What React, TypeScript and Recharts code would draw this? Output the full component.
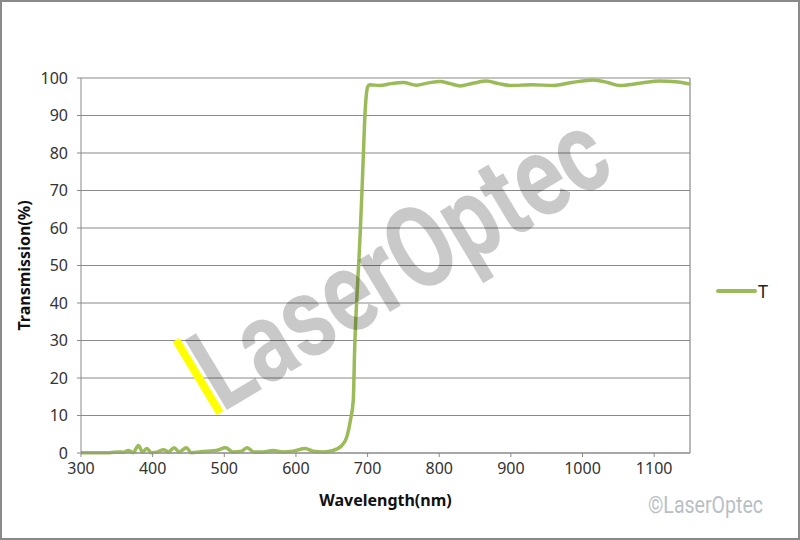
import React from 'react';
import { LineChart, Line, XAxis, YAxis, CartesianGrid, Legend, ReferenceLine } from 'recharts';

const wavelength = [
    300, 320, 340, 352, 360, 366, 373, 380, 386, 392, 398, 407, 415, 422, 430, 437, 447, 454, 465, 475,
    489, 502, 512, 524, 532, 541, 554, 568, 582, 596, 613, 624, 638, 652, 664, 671, 676, 680, 682, 686,
    688, 690, 692, 694, 696, 698, 700, 703, 717, 733, 750, 768, 785, 801, 815, 829, 847, 866, 883, 899,
    930, 959, 985, 1015, 1035, 1052, 1080, 1108, 1130, 1150,
];

const transmission = [
    0.1, 0.1, 0.1, 0.3, 0.2, 0.7, 0.1, 2.0, 0.3, 1.2, 0.1, 0.3, 0.9, 0.3, 1.4, 0.3, 1.4, 0.1, 0.3, 0.5,
    0.7, 1.4, 0.3, 0.5, 1.4, 0.3, 0.3, 0.7, 0.3, 0.5, 1.2, 0.5, 0.3, 0.7, 2.0, 4.3, 8.7, 14, 28, 45,
    52, 60, 69, 79, 89, 95, 97.6, 98.2, 98, 98.5, 98.8, 98.1, 98.7, 99.1, 98.5, 97.9, 98.6, 99.2, 98.5, 98,
    98.2, 98, 98.8, 99.5, 98.8, 98, 98.6, 99.2, 99, 98.4,
];

const xTicks = [300, 400, 500, 600, 700, 800, 900, 1000, 1100];
const yTicks = [0, 10, 20, 30, 40, 50, 60, 70, 80, 90, 100];

const seriesName = 'T';
const LINE_COLOR = '#9BBB59';
const GRID = '#8a8a8a';
const FONT = '"Noto Sans", sans-serif';

const data = wavelength.map((w, i) => ({ w, t: transmission[i] }));

const LegendBox = () => (
    <svg width={60} height={24} style={{ display: 'block' }}>
        <line x1={3} y1={11} x2={40} y2={11} stroke={LINE_COLOR} strokeWidth={4} strokeLinecap="round" />
        <text x={43} y={18} fontFamily={FONT} fontSize={18} fill="#222">{seriesName}</text>
    </svg>
);

const App: React.FC = () => {
    return (
        <div style={{ position: 'absolute', left: 0, top: 0, width: 800, height: 540, background: '#fff' }}>
            <LineChart width={800} height={540} data={data} margin={{ top: 78, right: 50, bottom: 57, left: 20 }}>
                <CartesianGrid vertical={false} stroke={GRID} strokeWidth={1.2} />
                <XAxis
                    dataKey="w"
                    type="number"
                    domain={[300, 1150]}
                    ticks={xTicks}
                    height={30}
                    stroke={GRID}
                    tickSize={4}
                    tickMargin={6}
                    tick={{ fill: '#333', fontSize: 16, fontFamily: FONT }}
                    label={{
                        content: ({ viewBox }: any) => (
                            <text x={viewBox.x + viewBox.width / 2} y={506} textAnchor="middle" fontFamily={FONT} fontSize={16} fontWeight="bold" fill="#111">
                                Wavelength(nm)
                            </text>
                        ),
                    }}
                />
                <YAxis
                    type="number"
                    domain={[0, 100]}
                    ticks={yTicks}
                    width={61}
                    stroke={GRID}
                    tickSize={4}
                    tickMargin={9}
                    tick={{ fill: '#333', fontSize: 16, fontFamily: FONT }}
                    label={{
                        content: ({ viewBox }: any) => {
                            const cx = 30;
                            const cy = viewBox.y + viewBox.height / 2;
                            return (
                                <text x={cx} y={cy} transform={`rotate(-90 ${cx} ${cy})`} textAnchor="middle" fontFamily={FONT} fontSize={16} fontWeight="bold" fill="#111">
                                    Transmission(%)
                                </text>
                            );
                        },
                    }}
                />
                <ReferenceLine x={1150} stroke={GRID} strokeWidth={1.2} />
                <Legend
                    layout="vertical"
                    align="right"
                    verticalAlign="middle"
                    content={() => <LegendBox />}
                    wrapperStyle={{ position: 'absolute', left: 715, top: 280, width: 60, height: 24 }}
                />
                <Line
                    type="monotone"
                    dataKey="t"
                    name={seriesName}
                    stroke={LINE_COLOR}
                    strokeWidth={3.5}
                    dot={false}
                    isAnimationActive={false}
                />
            </LineChart>
            <svg width={800} height={540} style={{ position: 'absolute', left: 0, top: 0, pointerEvents: 'none' }}>
                <line x1={176} y1={340} x2={220} y2={413} stroke="#ffff00" strokeWidth={8} />
                <text
                    x={222}
                    y={413}
                    transform="rotate(-31 222 413)"
                    fontFamily="Roboto, sans-serif"
                    fontWeight="bold"
                    fontSize={115}
                    textLength={462}
                    lengthAdjust="spacingAndGlyphs"
                    fill="#000"
                    fillOpacity={0.21}
                >
                    LaserOptec
                </text>
                <text x={648} y={513} fontFamily="Roboto, sans-serif" fontSize={24} textLength={115} lengthAdjust="spacingAndGlyphs" fill="#b9c0c4">
                    ©LaserOptec
                </text>
                <rect x={1} y={1} width={798} height={538} fill="none" stroke="#8a8a8a" strokeWidth={2} />
            </svg>
        </div>
    );
};

export default App;
